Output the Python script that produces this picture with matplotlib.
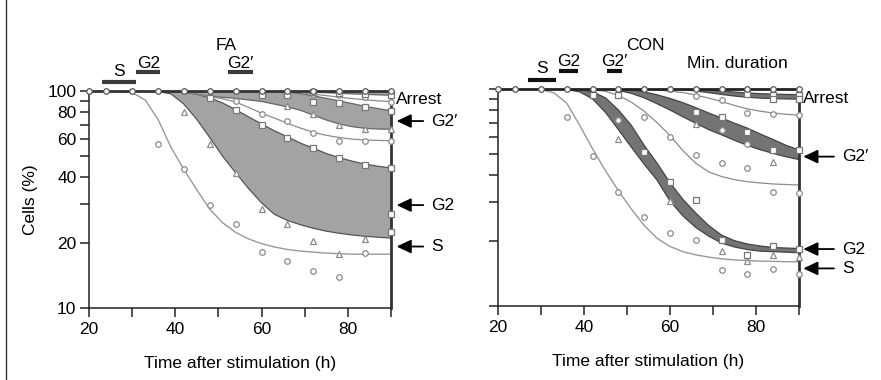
import matplotlib
matplotlib.use("Agg")
import matplotlib.pyplot as plt
from matplotlib.ticker import FixedLocator, FixedFormatter, NullLocator
from matplotlib.transforms import blended_transform_factory
from matplotlib.lines import Line2D

plt.rcParams['font.family'] = ['Liberation Sans', 'DejaVu Sans']
plt.rcParams['font.size'] = 12.5

# time grid (h) on which the fitted curves are read
tt = [20, 24, 27, 30, 33, 36, 39, 42, 45, 48, 51, 54, 57, 60, 63, 66, 69, 72, 75, 78, 81, 84, 87, 90]

# ---- FA: fitted curves (% cells) ----
fa_s = [100, 100, 99.6, 98.3, 91, 74, 55, 43.5, 35, 28.5, 24.7, 22.3, 20.8, 19.8, 19.1, 18.6, 18.3, 18.1, 17.9, 17.8, 17.7, 17.7, 17.7, 17.7]
fa_arr = [100] * 15 + [99.7, 99.3, 98.8, 98.2, 97.6, 97.0, 96.5, 96.0, 95.6]
fa_upper = [100] * 15 + [99.3, 98.3, 96.8, 95.2, 93.7, 92.3, 91.1, 90.1, 89.4]
fa_g2p_hi = [100] * 15 + [99, 97.3, 95, 92.5, 90, 87.5, 85, 83, 81]
fa_g2p_lo = [100] * 7 + [98.8, 96.8, 94.5, 93.5, 92.5, 91, 89.5, 87, 84.5, 81.5, 77.5, 73.5, 70.5, 68.5, 67.3, 66.8, 66.6]
fa_mid = [100] * 6 + [99.7, 99, 96.8, 94, 92, 89, 84, 79, 75, 71, 67.5, 64.5, 62.5, 61, 60, 59.5, 59.2, 59]
fa_g2_hi = [100] * 6 + [99.5, 98.5, 96.5, 93, 88, 82, 76, 70.5, 65.5, 61.5, 57.5, 54.5, 51.5, 49.3, 47.5, 46, 45, 44.2]
fa_g2_lo = [100] * 5 + [99.5, 97, 87, 74, 61, 50, 42, 35.5, 30.5, 27, 25.3, 24.2, 23.3, 22.6, 22.1, 21.7, 21.4, 21.2, 21]

# ---- CON: fitted curves (% cells) ----
con_s = [100, 100, 100, 99.5, 96, 86, 68, 53, 42, 34, 28, 23.5, 20.5, 18.8, 17.8, 17.2, 16.8, 16.5, 16.3, 16.2, 16.1, 16.05, 16, 16]
con_arr_hi = [100] * 15 + [99.6, 98.8, 97.8, 96.8, 95.9, 95.2, 94.7, 94.4, 94.2]
con_arr_lo = [100] * 14 + [99.3, 98, 96.2, 94.4, 92.8, 91.6, 90.8, 90.3, 90, 89.8]
con_upper = [100] * 11 + [99.5, 99, 97.8, 96.3, 93.8, 90.8, 87.5, 84, 81, 79, 77.5, 76.5, 75.8]
con_g2p_hi = [100] * 10 + [99, 97, 94, 90.5, 86.5, 82, 77.5, 73.5, 69.5, 66, 62, 58.5, 55, 52.4]
con_g2p_lo = [100] * 9 + [98.5, 95.5, 91, 85.5, 80, 74.5, 69.5, 65, 61.5, 58, 55, 52.5, 50.5, 48.7, 47.3]
con_mid = [100] * 7 + [99.5, 97.5, 93.5, 87, 79, 70, 61, 52, 45.5, 41.5, 39.5, 38.2, 37.4, 36.9, 36.5, 36.3, 36.1]
con_g2_hi = [100] * 6 + [99.5, 97, 91, 80, 68, 55, 45.5, 37, 31, 26.8, 23.5, 21.2, 20, 19.3, 18.9, 18.6, 18.5, 18.4]
con_g2_lo = [100] * 5 + [99.5, 97, 90, 78, 65, 54, 45, 38, 30.5, 26, 23, 21, 19.5, 18.7, 18.2, 17.9, 17.8, 17.7, 17.6]

# ---- measured points ----
t_top = [20, 24, 30, 36, 42, 48, 54, 60, 66, 72, 78, 84, 90]

fa_circ_t = [36, 42, 48, 54, 60, 66, 72, 78, 84, 54, 60, 66, 72, 78, 84, 90, 72, 78, 84, 90]
fa_circ_v = [56.8, 43.6, 29.8, 24.4, 18.2, 16.5, 14.8, 13.9, 18.0, 89.9, 78.6, 72.5, 63.8, 59, 59, 59, 97, 95.5, 93.5, 89.3]
fa_tri_t = [42, 48, 54, 60, 66, 72, 78, 84, 66, 72, 78, 84, 90]
fa_tri_v = [80, 57, 41.8, 28.5, 24.3, 20.4, 17.7, 20.8, 85.3, 78.6, 69.5, 66.6, 66.6]
fa_sq_t = [48, 54, 60, 66, 72, 78, 84, 90, 60, 66, 72, 78, 84, 90, 72, 78, 84, 90, 90, 90]
fa_sq_v = [93, 81.5, 69.7, 61, 54.4, 49.3, 45.5, 44.2, 96, 95.5, 89.3, 88.4, 84.5, 81, 99, 98, 97, 96, 27, 22.3]

con_circ_t = [36, 42, 48, 54, 60, 66, 72, 78, 84, 90, 54, 60, 66, 72, 78, 84, 90, 66, 72, 78, 84, 90, 48, 72, 78]
con_circ_v = [74.3, 49.2, 33.7, 25.8, 21.8, 20.2, 14.7, 14.1, 14.8, 14.1, 74.5, 60.3, 49.6, 45.5, 43.1, 33.7, 33.1,
              93, 88.7, 77.8, 76.9, 75.8, 72.2, 64.5, 56]
con_tri_t = [48, 60, 72, 78, 84, 90, 66, 84, 78]
con_tri_v = [58.6, 30.6, 18.0, 16.1, 17.2, 16.8, 69.2, 46.3, 17.2]
con_sq_t = [42, 48, 54, 60, 66, 72, 78, 84, 90, 66, 72, 78, 84, 90, 78, 84, 90, 84, 90]
con_sq_v = [93.5, 93.5, 51.3, 37.3, 30.9, 20.2, 17.2, 18.9, 18.4, 78.3, 74.3, 63.4, 52.2, 52.4, 95, 94, 94, 90, 90]

fig = plt.figure(figsize=(8.81, 3.8), dpi=100)
ax1 = fig.add_axes([89 / 881, 72 / 380, 302 / 881, 217 / 380])
ax2 = fig.add_axes([498 / 881, 74 / 380, 301 / 881, 217 / 380])


def setup_axes(ax, show_labels):
    ax.set_yscale('log')
    ax.set_ylim(10, 100)
    ax.set_xlim(20, 90)
    ax.yaxis.set_major_locator(FixedLocator(list(range(10, 101, 10))))
    ax.yaxis.set_minor_locator(NullLocator())
    ylabs = ['10', '20', '', '40', '', '60', '', '80', '', '100']
    ax.yaxis.set_major_formatter(FixedFormatter(ylabs if show_labels else [''] * 10))
    ax.xaxis.set_major_locator(FixedLocator(list(range(20, 91, 10))))
    ax.xaxis.set_major_formatter(FixedFormatter(['20', '', '40', '', '60', '', '80', '']))
    ax.tick_params(direction='out', length=6.5, width=1.1, color='#222', pad=2.5)
    ax.tick_params(axis='x', pad=3.5)
    ax.spines['top'].set_visible(False)
    for s in ('left', 'bottom'):
        ax.spines[s].set_linewidth(1.1)
        ax.spines[s].set_color('#222')
    ax.spines['right'].set_linewidth(2)
    ax.spines['right'].set_color('#333')
    ax.text(0.5, -0.258, 'Time after stimulation (h)', transform=ax.transAxes, ha='center', va='center')


def band(ax, hi, lo, face, edge):
    ax.fill_between(tt, hi, lo, facecolor=face, lw=0, zorder=1)
    ax.plot(tt, hi, color=edge, lw=0.9, zorder=2)
    ax.plot(tt, lo, color=edge, lw=0.9, zorder=2)


def points(ax, t, v, marker, edge):
    ax.plot(t, v, ls='none', marker=marker, ms=4, mfc='white', mec=edge, mew=0.9, zorder=5, clip_on=False)


def side_arrow(ax, t_tip, v, label, dx):
    ax.annotate(label, xy=(t_tip, v), xytext=(dx, 0), textcoords='offset pixels',
                ha='left', va='center', annotation_clip=False,
                arrowprops=dict(arrowstyle='-|>,head_length=0.7,head_width=0.33', color='black',
                                lw=1.3, shrinkA=4, shrinkB=0))


def phase_bar(ax, t0, t1, y, label, ytxt, color):
    tr = blended_transform_factory(ax.transData, ax.transAxes)
    ax.plot([t0, t1], [y, y], transform=tr, lw=3, color=color, solid_capstyle='butt', clip_on=False)
    ax.text((t0 + t1) / 2, ytxt, label, transform=tr, ha='center', va='baseline')


# ---- FA panel ----
setup_axes(ax1, True)
band(ax1, [100] * len(tt), fa_arr, '#a3a3a3', '#666666')
band(ax1, fa_g2p_hi, fa_g2p_lo, '#a3a3a3', '#666666')
band(ax1, fa_g2_hi, fa_g2_lo, '#a3a3a3', '#555555')
ax1.plot(tt, fa_upper, color='#8c8c8c', lw=0.9, zorder=2)
ax1.plot(tt, fa_mid, color='#8c8c8c', lw=0.9, zorder=2)
ax1.plot(tt, fa_s, color='#999999', lw=1.0, zorder=2)
ax1.plot([20, 90], [100, 100], color='#333333', lw=2, zorder=3, clip_on=False)
points(ax1, fa_circ_t, fa_circ_v, 'o', '#8a8a8a')
points(ax1, fa_tri_t, fa_tri_v, '^', '#8a8a8a')
points(ax1, fa_sq_t, fa_sq_v, 's', '#777777')
points(ax1, t_top, [100] * len(t_top), 'o', '#555555')
ax1.text(0.454, 1.21, 'FA', transform=ax1.transAxes, ha='center', va='center')
ax1.text(91.1, 91, 'Arrest', ha='left', va='center')
side_arrow(ax1, 91.3, 72.7, 'G2\u2032', 35)
side_arrow(ax1, 91.3, 29.8, 'G2', 35)
side_arrow(ax1, 91.3, 19.2, 'S', 35)
phase_bar(ax1, 23, 31, 1.043, 'S', 1.071, '#3a3a3a')
phase_bar(ax1, 31, 36.5, 1.086, 'G2', 1.104, '#3a3a3a')
phase_bar(ax1, 52.2, 57.9, 1.086, 'G2\u2032', 1.104, '#3a3a3a')
fig.text(30 / 881, 1 - 200 / 380, 'Cells (%)', rotation=90, ha='center', va='center')

# ---- CON panel ----
setup_axes(ax2, False)
band(ax2, con_arr_hi, con_arr_lo, '#747474', '#444444')
band(ax2, con_g2p_hi, con_g2p_lo, '#747474', '#444444')
band(ax2, con_g2_hi, con_g2_lo, '#747474', '#444444')
ax2.plot(tt, con_upper, color='#8c8c8c', lw=0.9, zorder=2)
ax2.plot(tt, con_mid, color='#8c8c8c', lw=0.9, zorder=2)
ax2.plot(tt, con_s, color='#999999', lw=1.0, zorder=2)
ax2.plot([20, 90], [100, 100], color='#222222', lw=2, zorder=3, clip_on=False)
points(ax2, con_circ_t, con_circ_v, 'o', '#8a8a8a')
points(ax2, con_tri_t, con_tri_v, '^', '#8a8a8a')
points(ax2, con_sq_t, con_sq_v, 's', '#777777')
points(ax2, t_top, [100] * len(t_top), 'o', '#555555')
ax2.text(0.488, 1.2, 'CON', transform=ax2.transAxes, ha='center', va='center')
ax2.text(90.9, 90.6, 'Arrest', ha='left', va='center')
side_arrow(ax2, 91.0, 48.8, 'G2\u2032', 39)
side_arrow(ax2, 91.0, 18.3, 'G2', 39)
side_arrow(ax2, 91.0, 14.9, 'S', 39)
phase_bar(ax2, 26.9, 33.5, 1.041, 'S', 1.072, '#111111')
phase_bar(ax2, 34.3, 38.5, 1.084, 'G2', 1.106, '#111111')
phase_bar(ax2, 45.3, 48.8, 1.084, 'G2\u2032', 1.106, '#111111')
tr2 = blended_transform_factory(ax2.transData, ax2.transAxes)
ax2.text(75.7, 1.095, 'Min. duration', transform=tr2, ha='center', va='baseline')

# frame line on the left edge
fig.lines.append(Line2D([5.5 / 881, 5.5 / 881], [0, 1], transform=fig.transFigure, lw=1, color='#333333'))

fig.savefig('out.png', dpi=100)
